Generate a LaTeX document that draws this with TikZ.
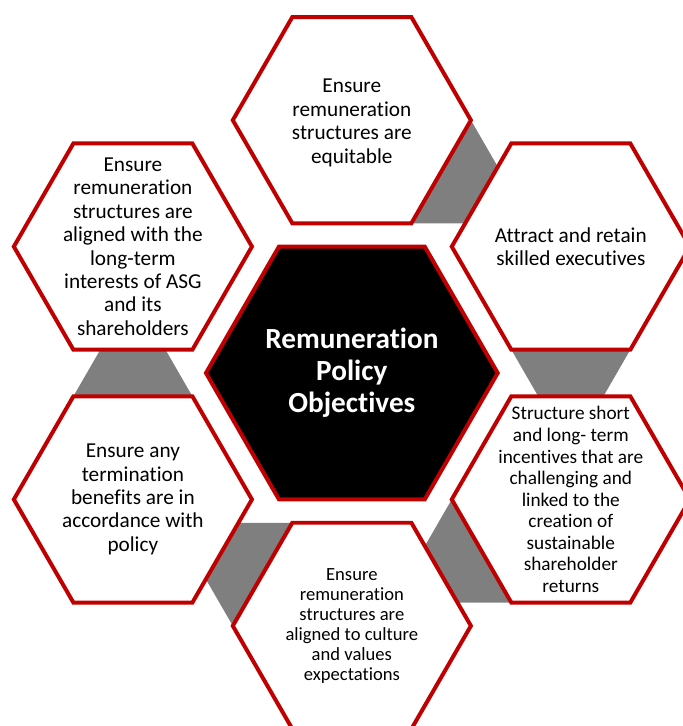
\documentclass[tikz,border=0pt]{standalone}
\usepackage{fontspec}
\setmainfont{Carlito}[Ligatures={NoCommon}, Contextuals={NoAlternate}]
\usetikzlibrary{shapes.geometric,backgrounds}
\definecolor{hexred}{RGB}{192,0,0}
\definecolor{linkgray}{RGB}{127,127,127}
\def\hexR{3.15}

\begin{document}
\begin{tikzpicture}[
	hexa/.style={regular polygon, regular polygon sides=6, minimum size=6.3cm, inner sep=0pt, outer sep=0pt, draw=hexred, line width=3pt, fill=white},
	core/.style={hexa, minimum size=7.72cm, fill=black},
	txt/.style={align=center, font=\fontsize{16}{17.6}\selectfont},
	link/.style={fill=linkgray}
]
	\useasboundingbox (-9.31,-9.34) rectangle (8.76,9.87);
	
	% hexagons
	\draw (0,0) node[core] (centro) {};
	\draw (90:6.69) node[hexa] (top) {};
	\draw (30:6.69) node[hexa] (upright) {};
	\draw (-30:6.69) node[hexa] (lowright) {};
	\draw (-90:6.69) node[hexa] (bottom) {};
	\draw (-150:6.69) node[hexa] (lowleft) {};
	\draw (150:6.69) node[hexa] (upleft) {};
	
	% gray links behind the hexagons
	\begin{scope}[on background layer]
		\fill[link] (top.0) -- (top.-60) -- ++(\hexR,0) -- cycle;
		\fill[link] (upright.-120) -- (upright.-60) -- ++(-120:\hexR) -- cycle;
		\fill[link] (lowright.180) -- (lowright.-120) -- ++(-\hexR,0) -- cycle;
		\fill[link] (bottom.180) -- (bottom.120) -- ++(-\hexR,0) -- cycle;
		\fill[link] (lowleft.120) -- (lowleft.60) -- ++(120:\hexR) -- cycle;
	\end{scope}
	
	% texts
	\node[txt, text=white, font=\bfseries\fontsize{22}{24.2}\selectfont] (centroText) at (centro)
	{
		Remuneration\\
		Policy\\
		Objectives
	};
	
	\node[txt] (topText) at ([yshift=-2pt]top)
	{
		Ensure\\
		remuneration\\
		structures are\\
		equitable
	};
	
	\node[txt] (uprightText) at (upright)
	{
		Attract and retain\\
		skilled executives
	};
	
	\node[txt, font=\fontsize{14.5}{16.2}\selectfont] (lowrightText) at (lowright)
	{
		Structure short\\
		and long- term\\
		incentives that are\\
		challenging and\\
		linked to the\\
		creation of\\
		sustainable\\
		shareholder\\
		returns
	};
	
	\node[txt, font=\fontsize{14}{15}\selectfont] (bottomText) at (bottom)
	{
		Ensure\\
		remuneration\\
		structures are\\
		aligned to culture\\
		and values\\
		expectations
	};
	
	\node[txt] (lowleftText) at (lowleft)
	{
		Ensure any\\
		termination\\
		benefits are in\\
		accordance with\\
		policy
	};
	
	\node[txt] (upleftText) at (upleft)
	{
		Ensure\\
		remuneration\\
		structures are\\
		aligned with the\\
		long-term\\
		interests of ASG\\
		and its\\
		shareholders
	};
\end{tikzpicture}
\end{document}
